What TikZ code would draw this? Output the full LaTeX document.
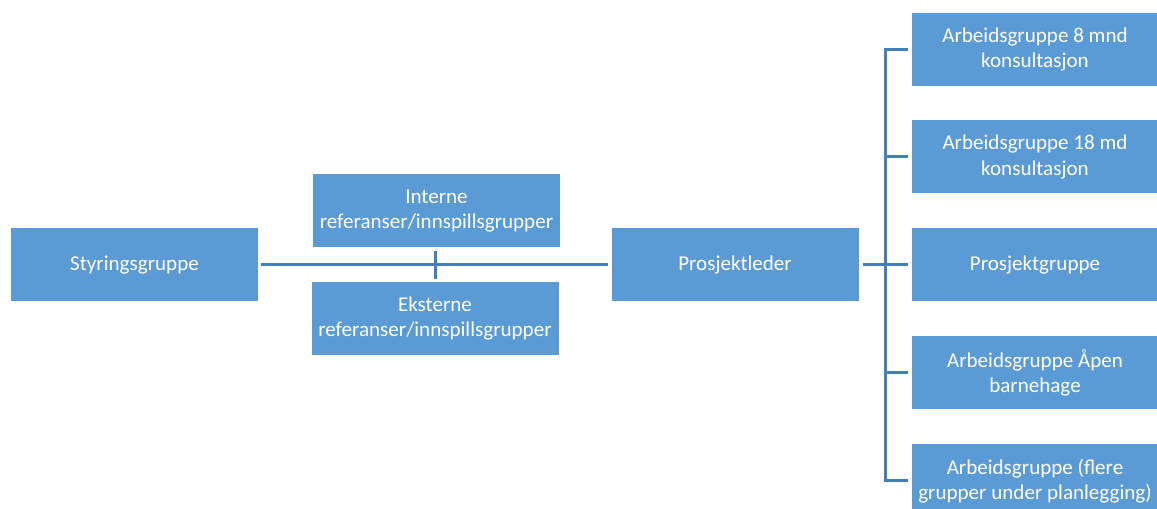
\documentclass[tikz,border=0pt]{standalone}
\usepackage{fontspec}
\setmainfont{Carlito}
\definecolor{boxfill}{RGB}{91,155,213}
\definecolor{linecol}{RGB}{70,126,185}
\begin{document}
\begin{tikzpicture}[x=0.75pt,y=-0.75pt,
  orgbox/.style={rectangle, fill=boxfill, draw=none, text=white, inner sep=0pt,
    minimum width=185.25pt, minimum height=54.75pt, align=center,
    font=\fontsize{15.8}{18.8}\selectfont},
  conn/.style={draw=linecol, line width=2.25pt}]
\useasboundingbox (0,0) rectangle (1157,509);
\node[orgbox] (sty) at (134.5,265) {Styringsgruppe};
\node[orgbox] (int) at (436.5,211) {Interne\\referanser/innspillsgrupper};
\node[orgbox] (eks) at (435,318.5) {Eksterne\\referanser/innspillsgrupper};
\node[orgbox] (pl) at (735,265) {Prosjektleder};
\node[orgbox] (a1) at (1035,49.5) {Arbeidsgruppe 8 mnd\\konsultasjon};
\node[orgbox] (a2) at (1035,157) {Arbeidsgruppe 18 md\\konsultasjon};
\node[orgbox] (a3) at (1035,265) {Prosjektgruppe};
\node[orgbox] (a4) at (1035,373) {Arbeidsgruppe Åpen\\barnehage};
\node[orgbox] (a5) at (1035,481) {Arbeidsgruppe (flere\\grupper under planlegging)};
\coordinate (j) at (435,265);
\coordinate (bus) at (885,265);
\draw[conn, shorten <=2.25pt, shorten >=2.25pt] (sty.east) -- (pl.west);
\draw[conn, shorten <=2.25pt, shorten >=2.25pt] (j |- int.south) -- (j |- eks.north);
\draw[conn, shorten <=3pt] (pl.east) -- (bus);
\draw[conn, line cap=rect] (bus |- a1) -- (bus |- a5);
\foreach \n in {a1,a2,a3,a4,a5}
  \draw[conn, shorten >=2.25pt] (bus |- \n) -- (\n.west);
\end{tikzpicture}
\end{document}
